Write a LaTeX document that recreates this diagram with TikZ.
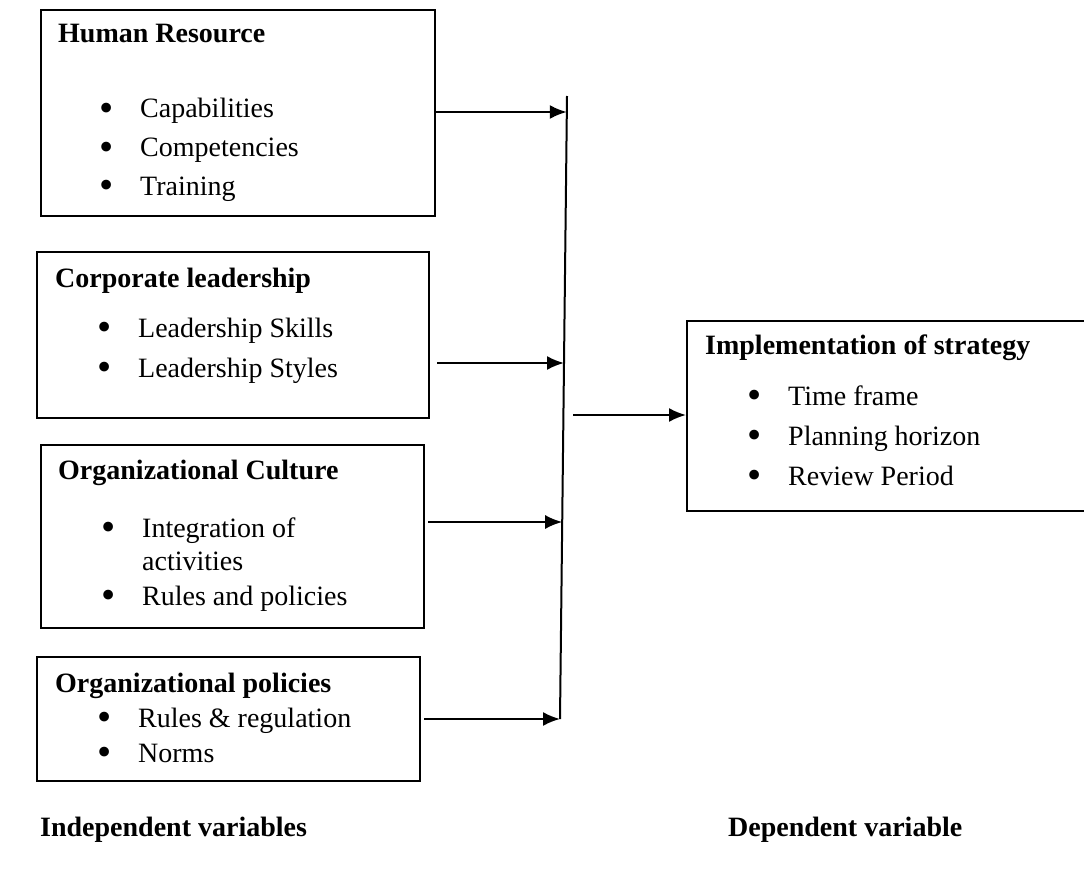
\documentclass[tikz,border=0pt]{standalone}
\usepackage{fontspec}
\setmainfont{Liberation Serif}
\usetikzlibrary{arrows.meta}
\newcommand{\itemgap}{41pt}
\newcommand{\bul}[1]{\makebox[\itemgap][l]{\smash{\raisebox{-3.5pt}{\scalebox{1.45}{\textbullet}}}}#1}
\newcommand{\cont}[1]{\hspace*{\itemgap}#1}
\tikzset{
    common/.style={inner sep=0pt, anchor=base west, font=\fontsize{28}{30}\selectfont},
    heading/.style={common, font=\fontsize{28}{30}\selectfont\bfseries},
    entry/.style={common},
    varbox/.style={draw, rectangle, line width=2pt, inner sep=0pt},
    link/.style={line width=2pt, -{Latex[length=17pt,width=14pt]}},
    bus/.style={line width=2pt}
}
\begin{document}
\begin{tikzpicture}[x=1pt,y=-1pt]
    \useasboundingbox (0,0) rectangle (1084,880);
    \clip (0,0) rectangle (1084,880);

    % independent variables
    \node[varbox, minimum width=394pt, minimum height=206pt] (hr) at (238,113) {};
    \node[heading] (hrT) at (58,43) {Human Resource};
    \node[entry] (hr1) at (99,118) {\bul{Capabilities}};
    \node[entry] (hr2) at (99,157) {\bul{Competencies}};
    \node[entry] (hr3) at (99,195) {\bul{Training}};

    \node[varbox, minimum width=392pt, minimum height=166pt] (cl) at (233,335) {};
    \node[heading] (clT) at (55,287) {Corporate leadership};
    \node[entry] (cl1) at (97,337) {\bul{Leadership Skills}};
    \node[entry] (cl2) at (97,377) {\bul{Leadership Styles}};

    \node[varbox, minimum width=383pt, minimum height=183pt] (oc) at (232.5,536.5) {};
    \node[heading] (ocT) at (58,479) {Organizational Culture};
    \node[entry] (oc1) at (101,537) {\bul{Integration of}};
    \node[entry] (oc1b) at (101,570) {\cont{activities}};
    \node[entry] (oc2) at (101,605) {\bul{Rules and policies}};

    \node[varbox, minimum width=383pt, minimum height=124pt] (op) at (228.5,719) {};
    \node[heading] (opT) at (55,692) {Organizational policies};
    \node[entry] (op1) at (97,727) {\bul{Rules \& regulation}};
    \node[entry] (op2) at (97,762) {\bul{Norms}};

    % dependent variable
    \node[varbox, minimum width=413pt, minimum height=190pt] (impl) at (893.5,416) {};
    \node[heading] (implT) at (705,354) {Implementation of strategy};
    \node[entry] (impl1) at (747,405) {\bul{Time frame}};
    \node[entry] (impl2) at (747,445) {\bul{Planning horizon}};
    \node[entry] (impl3) at (747,485) {\bul{Review Period}};

    \node[heading] (indep) at (40,836) {Independent variables};
    \node[heading] (dep) at (728,836) {Dependent variable};

    % connectors
    \coordinate (jtop) at (567,96);
    \coordinate (jbot) at (560,719);
    \coordinate (j1) at (566.8,112);
    \coordinate (j2) at (564,363);
    \coordinate (j3) at (562.2,522);
    \coordinate (jout) at (573,415);

    \draw[bus] (jtop) -- (jbot);
    \draw[link] (hr.east |- j1) -- (j1);
    \draw[link] ([xshift=7pt]cl.east |- j2) -- (j2);
    \draw[link] ([xshift=3pt]oc.east |- j3) -- (j3);
    \draw[link] ([xshift=3pt]op.east |- jbot) -- (jbot);
    \draw[link] (jout) -- (impl.west |- jout);
\end{tikzpicture}
\end{document}
